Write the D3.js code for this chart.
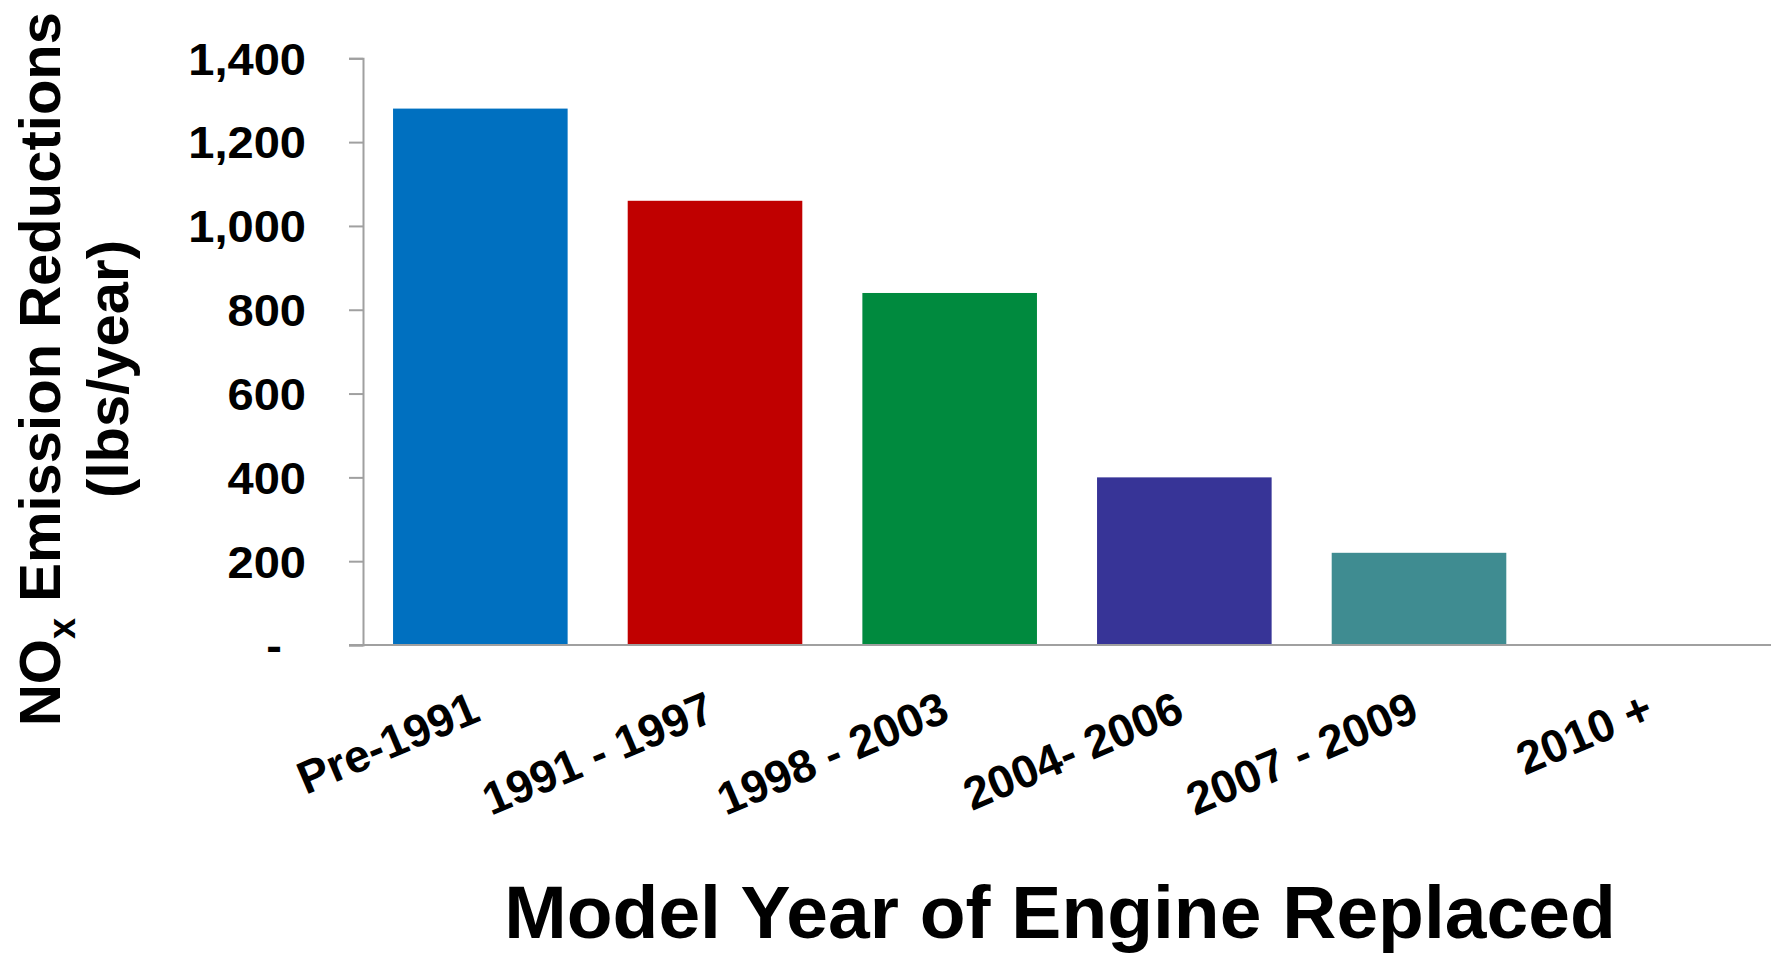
<!DOCTYPE html>
<html lang="en">
<head>
    <meta charset="UTF-8">
    <title>NOx Emission Reductions</title>
    <script src="https://cdnjs.cloudflare.com/ajax/libs/d3/7.8.5/d3.min.js"></script>
    <style>
        body { margin: 0; background: #fff; }
        text { font-family: 'Liberation Sans', Arial, sans-serif; font-weight: bold; fill: #000; }
    </style>
</head>
<body>
    <div id="chart"></div>
    <script>
        var categories = ['Pre-1991', '1991 - 1997', '1998 - 2003', '2004- 2006', '2007 - 2009', '2010 +'];
        var reductions = [1280, 1060, 840, 400, 220, 0];
        var colours = ['#0070C0', '#C00000', '#008A3E', '#373497', '#3F8C91', '#999999'];
        var yTicks = [0, 200, 400, 600, 800, 1000, 1200, 1400];

        var width = 1777,
            height = 953;

        var svg = d3.select('#chart')
            .append('svg')
            .attr('width', width)
            .attr('height', height);

        var x = d3.scaleBand()
            .domain(categories)
            .range([363, 1771])
            .paddingInner(0.256)
            .paddingOuter(0.128);

        var y = d3.scaleLinear()
            .domain([0, 1400])
            .range([645, 58.3]);

        // bars
        svg.selectAll('.bar')
            .data(reductions)
            .enter()
            .append('rect')
            .attr('class', 'bar')
            .attr('x', function (d, i) { return x(categories[i]); })
            .attr('width', x.bandwidth())
            .attr('y', function (d) { return y(d); })
            .attr('height', function (d) { return y(0) - y(d); })
            .attr('fill', function (d, i) { return colours[i]; });

        // y axis
        var yAxis = svg.append('g')
            .attr('transform', 'translate(' + x.range()[0] + ',0)')
            .call(d3.axisLeft(y)
                .tickValues(yTicks)
                .tickSize(14)
                .tickFormat(function (d) { return d === 0 ? '-' : d3.format(',')(d); }));

        yAxis.select('.domain').attr('stroke', '#A0A0A0').attr('stroke-width', 2);
        yAxis.selectAll('.tick line').attr('stroke', '#A0A0A0').attr('stroke-width', 2);
        // labels are drawn a bit wide, like the original slide
        yAxis.selectAll('.tick text')
            .style('font-size', '44px')
            .attr('x', 0)
            .attr('dy', '0.36em')
            .attr('transform', function (d) {
                return 'translate(' + (d === 0 ? -81 : -57) + ',0) scale(1.07,1)';
            });

        // x axis: plain baseline, rotated labels
        var xAxis = svg.append('g')
            .attr('transform', 'translate(0,' + y(0) + ')')
            .call(d3.axisBottom(x).tickSize(0).tickFormat(''));

        xAxis.select('.domain')
            .attr('d', 'M' + (x.range()[0] - 14) + ',0H' + x.range()[1])
            .attr('stroke', '#A0A0A0')
            .attr('stroke-width', 2);

        svg.append('g')
            .selectAll('text')
            .data(categories)
            .enter()
            .append('text')
            .attr('text-anchor', 'end')
            .style('font-size', '46px')
            .attr('transform', function (d) {
                var cx = x(d) + x.bandwidth() / 2 + 2;
                return 'translate(' + cx + ',' + (y(0) + 75) + ') rotate(-23)';
            })
            .text(function (d) { return d; });

        // axis titles
        svg.append('text')
            .attr('x', 1060)
            .attr('y', 938)
            .attr('text-anchor', 'middle')
            .style('font-size', '75px')
            .text('Model Year of Engine Replaced');

        var yTitle = svg.append('text')
            .attr('transform', 'translate(60,369) rotate(-90)')
            .attr('text-anchor', 'middle')
            .style('font-size', '58px');
        yTitle.append('tspan').text('NO');
        yTitle.append('tspan')
            .attr('dy', 15)
            .style('font-size', '38px')
            .text('x');
        yTitle.append('tspan')
            .attr('dy', -15)
            .text(' Emission Reductions');

        svg.append('text')
            .attr('transform', 'translate(128,369) rotate(-90)')
            .attr('text-anchor', 'middle')
            .style('font-size', '58px')
            .text('(lbs/year)');
    </script>
</body>
</html>
